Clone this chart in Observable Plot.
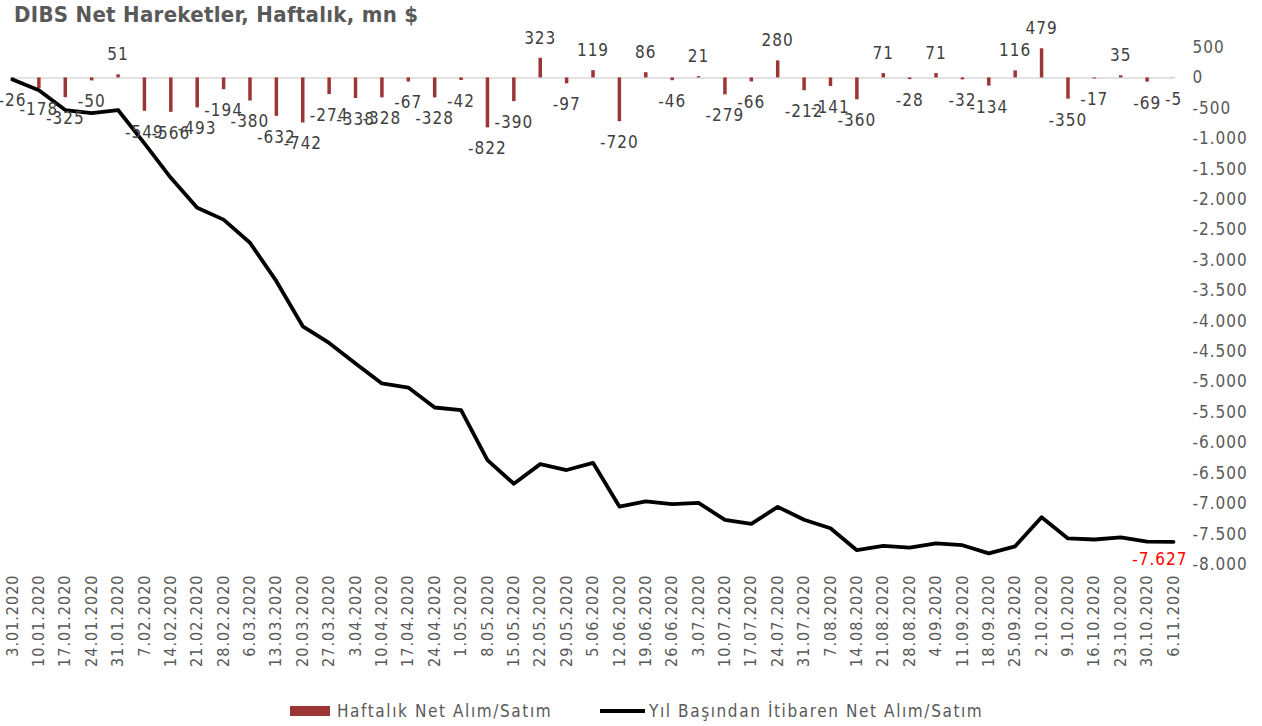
<!DOCTYPE html>
<html>
<head>
<meta charset="utf-8">
<script src="https://cdn.jsdelivr.net/npm/d3@7"></script>
<script src="https://cdn.jsdelivr.net/npm/@observablehq/plot@0.6"></script>
<style>
  body { margin: 0; background: #fff; font-family: "DejaVu Sans Condensed", "DejaVu Sans", sans-serif; }
  #wrap { position: relative; width: 1262px; height: 726px; overflow: hidden; }
  #title { position: absolute; left: 14px; top: 2px; font-size: 22px; letter-spacing: 0.3px; font-weight: bold; color: #595959; white-space: nowrap; font-family: "DejaVu Sans Condensed", sans-serif; }
  #chart { position: absolute; left: 0; top: 0; }
  #legend { position: absolute; left: 0; top: 700px; width: 1262px; height: 24px; font-size: 17px; color: #595959; }
  .lg { position: absolute; top: 0; white-space: nowrap; letter-spacing: 1.6px; line-height: 22px; }
  .chart-svg text { letter-spacing: 1px; }
</style>
</head>
<body>
<div id="wrap">
  <div id="chart"></div>
  <div id="title">DIBS Net Hareketler, Haftalık, mn $</div>
  <div id="legend">
    <div class="lg" style="left:290px;"><span style="display:inline-block;width:40px;height:10px;background:#9c3535;vertical-align:middle;margin-right:7px;position:relative;top:-1px;"></span>Haftalık Net Alım/Satım</div>
    <div class="lg" style="left:600px;"><span style="display:inline-block;width:45px;height:4px;background:#000;vertical-align:middle;margin-right:4px;position:relative;top:-1px;"></span>Yıl Başından İtibaren Net Alım/Satım</div>
  </div>
</div>
<script>
const dates = ["3.01.2020","10.01.2020","17.01.2020","24.01.2020","31.01.2020","7.02.2020","14.02.2020","21.02.2020","28.02.2020","6.03.2020","13.03.2020","20.03.2020","27.03.2020","3.04.2020","10.04.2020","17.04.2020","24.04.2020","1.05.2020","8.05.2020","15.05.2020","22.05.2020","29.05.2020","5.06.2020","12.06.2020","19.06.2020","26.06.2020","3.07.2020","10.07.2020","17.07.2020","24.07.2020","31.07.2020","7.08.2020","14.08.2020","21.08.2020","28.08.2020","4.09.2020","11.09.2020","18.09.2020","25.09.2020","2.10.2020","9.10.2020","16.10.2020","23.10.2020","30.10.2020","6.11.2020"];

const weekly = [-26,-178,-325,-50,51,-549,-566,-493,-194,-380,-632,-742,-274,-338,-328,-67,-328,-42,-822,-390,323,-97,119,-720,86,-46,21,-279,-66,280,-212,-141,-360,71,-28,71,-32,-134,116,479,-350,-17,35,-69,-5];

const cumulative = [-26,-204,-529,-579,-528,-1077,-1643,-2136,-2330,-2710,-3342,-4084,-4358,-4696,-5024,-5091,-5419,-5461,-6283,-6673,-6350,-6447,-6328,-7048,-6962,-7008,-6987,-7266,-7332,-7052,-7264,-7405,-7765,-7694,-7722,-7651,-7683,-7817,-7701,-7222,-7572,-7589,-7554,-7623,-7627];

const yTicks = [500,0,-500,-1000,-1500,-2000,-2500,-3000,-3500,-4000,-4500,-5000,-5500,-6000,-6500,-7000,-7500,-8000];

const rows = dates.map((d, i) => ({date: d, weekly: weekly[i], cum: cumulative[i]}));
const last = rows[rows.length - 1];

const fmt = d3.formatLocale({decimal: ",", thousands: ".", grouping: [3], currency: ["", ""], minus: "-"}).format(",d");

const barColor = "#9c3535";
const font = "DejaVu Sans Condensed, DejaVu Sans, sans-serif";

const chart = Plot.plot({
  className: "chart-svg",
  width: 1262,
  height: 690,
  marginLeft: 12,
  marginRight: 89,
  marginTop: 47,
  marginBottom: 126,
  style: {fontFamily: font, background: "transparent"},
  x: {type: "point", domain: dates, padding: 0, round: false},
  y: {domain: [-8000, 500]},
  marks: [
    Plot.ruleY([0], {stroke: "#d9d9d9", strokeWidth: 1.5}),
    Plot.ruleX(rows, {x: "date", y1: 0, y2: "weekly", stroke: barColor, strokeWidth: 3.5}),
    Plot.lineY(rows, {x: "date", y: "cum", stroke: "#000", strokeWidth: 3.8, strokeLinejoin: "round"}),
    Plot.text(rows.filter(r => r.weekly >= 0), {x: "date", y: "weekly", text: r => fmt(r.weekly), dy: -20, fill: "#404040", fontSize: 17}),
    Plot.text(rows.filter(r => r.weekly < 0), {x: "date", y: "weekly", text: r => fmt(r.weekly), dy: 21, fill: "#404040", fontSize: 17}),
    Plot.text([last], {x: "date", y: "cum", text: r => fmt(r.cum), dx: 14, dy: 18, textAnchor: "end", fill: "#ff0000", fontSize: 17}),
    Plot.axisY({anchor: "right", ticks: yTicks, tickSize: 0, tickPadding: 19, tickFormat: fmt, label: null, fontSize: 17, color: "#595959", textAnchor: "start"}),
    Plot.axisX({anchor: "bottom", tickSize: 0, tickPadding: 10, tickRotate: -90, label: null, fontSize: 16, color: "#595959"})
  ]
});
document.getElementById("chart").appendChild(chart);
</script>
</body>
</html>
